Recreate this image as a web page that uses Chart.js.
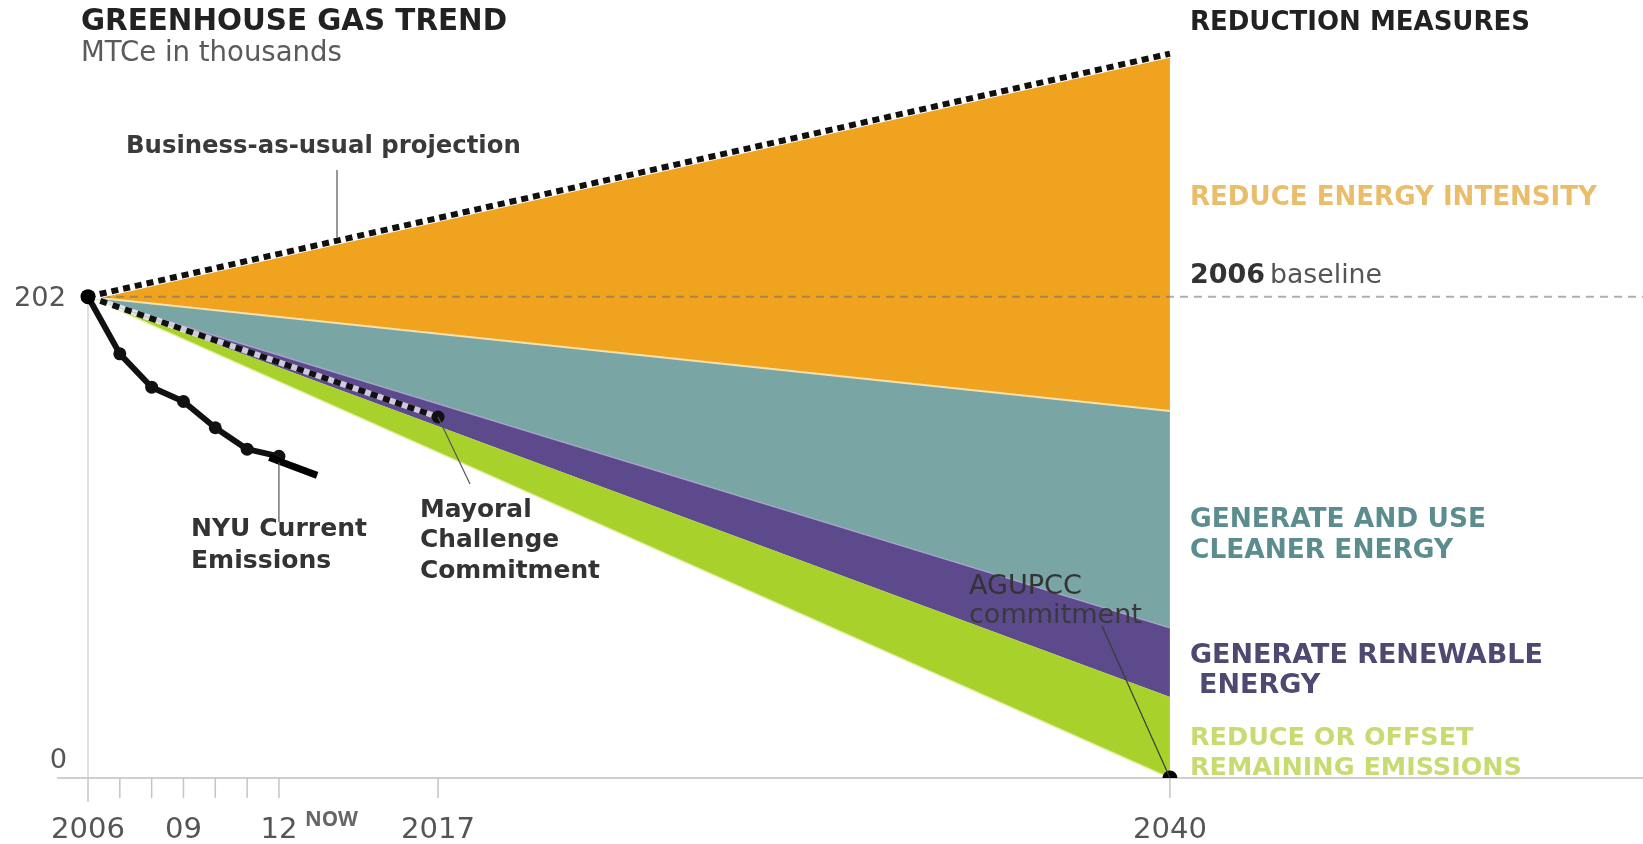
<!DOCTYPE html>
<html><head><meta charset="utf-8">
<script src="https://cdn.jsdelivr.net/npm/chart.js@4.4.1/dist/chart.umd.min.js"></script>
<style>html,body{margin:0;padding:0;background:#fff;overflow:hidden}canvas{display:block}</style>
</head><body>
<canvas id="c" width="1643" height="844"></canvas>
<script>
// ---- data ----
const years = [2006, 2040];
const businessAsUsual = [202, 304];
const afterEnergyIntensity = [202, 154];
const afterCleanerEnergy = [202, 63];
const afterRenewable = [202, 34];
const afterOffsets = [202, 0];
const baselineYears = [2006, 2060];
const baselineValues = [202, 202];
const mayoralYears = [2006, 2017];
const mayoralValues = [202, 151.5];
const nyuYears = [2006, 2007, 2008, 2009, 2010, 2011, 2012];
const nyuValues = [202, 178, 164, 158, 147, 138, 135];
const nyuTrendYears = [2011.7, 2013.2];
const nyuTrendValues = [134.5, 127];
const keyYears = [2006, 2040];
const keyValues = [202, 0];
const tickYears = [2006, 2007, 2008, 2009, 2010, 2011, 2012, 2017, 2040];
const tickLabels = ['2006', '', '', '09', '', '', '12', '2017', '2040'];
const yTickValues = [0, 202];
const yTickLabels = ['0', '202'];

const pts = (xs, ys) => xs.map((x, i) => ({x: x, y: ys[i]}));
const DV = "'DejaVu Sans'";

const COL = {orange: '#f0a31e', teal: '#79a5a5', purple: '#5c4a8c', green: '#a8d12c'};

function base(extra) {
  return Object.assign({pointRadius: 0, borderWidth: 0, fill: false, tension: 0, borderCapStyle: 'butt'}, extra);
}

const datasets = [
  base({data: pts(years, businessAsUsual), fill: 1, backgroundColor: COL.orange, order: 20}),
  base({data: pts(years, afterEnergyIntensity), fill: 2, backgroundColor: COL.teal, borderColor: 'rgba(252,228,175,0.95)', borderWidth: 2, order: 19}),
  base({data: pts(years, afterCleanerEnergy), fill: 3, backgroundColor: COL.purple, borderColor: 'rgba(175,170,210,0.8)', borderWidth: 1.5, order: 18}),
  base({data: pts(years, afterRenewable), fill: 4, backgroundColor: COL.green, order: 17}),
  base({data: pts(years, afterOffsets), borderColor: 'rgba(225,240,160,0.9)', borderWidth: 1.5, order: 16}),
  base({data: pts(baselineYears, baselineValues), borderColor: 'rgba(110,110,110,0.55)', borderWidth: 2, borderDash: [8, 6], clip: false, order: 15}),
  base({data: pts(years, businessAsUsual), borderColor: '#ffffff', borderWidth: 8, order: 14}),
  base({data: pts(years, businessAsUsual), borderColor: '#111111', borderWidth: 6, borderDash: [7, 5], order: 13}),
  base({data: pts(mayoralYears, mayoralValues), borderColor: 'rgba(255,255,255,0.7)', borderWidth: 6, order: 12}),
  base({data: pts(mayoralYears, mayoralValues), borderColor: '#111111', borderWidth: 6, borderDash: [7, 6], order: 11}),
  base({data: pts(mayoralYears, mayoralValues), showLine: false, pointRadius: [0, 6.5], pointBackgroundColor: '#111', pointBorderWidth: 0, order: 10}),
  base({data: pts(nyuYears, nyuValues), borderColor: '#111111', borderWidth: 6, borderCapStyle: 'round', borderJoinStyle: 'round', pointRadius: 6.5, pointBackgroundColor: '#111', pointBorderWidth: 0, order: 9}),
  base({data: pts(nyuTrendYears, nyuTrendValues), borderColor: '#000000', borderWidth: 7, order: 8}),
  base({data: pts(keyYears, keyValues), showLine: false, pointRadius: 7.5, pointBackgroundColor: '#000', pointBorderWidth: 0, order: 1})
];

const decor = {
  id: 'decor',
  beforeDraw(chart) {
    const ctx = chart.ctx, x = chart.scales.x, y = chart.scales.y, ca = chart.chartArea;
    const y0 = y.getPixelForValue(yTickValues[0]);
    const yTop = y.getPixelForValue(yTickValues[1]);
    const ln = (a, b, c, d) => { ctx.beginPath(); ctx.moveTo(a, b); ctx.lineTo(c, d); ctx.stroke(); };
    ctx.save();
    const x06 = x.getPixelForValue(tickYears[0]);
    ctx.strokeStyle = '#d6d6d6'; ctx.lineWidth = 1.5;
    ln(x06, yTop, x06, y0);
    ctx.strokeStyle = '#cfcfcf'; ctx.lineWidth = 2;
    ln(ca.left + 4, y0, chart.width, y0);
    ctx.strokeStyle = '#c4c4c4'; ctx.lineWidth = 1.5;
    tickYears.forEach((t, i) => {
      const px = x.getPixelForValue(t);
      ln(px, y0, px, y0 + (i === 0 ? 24 : 20));
    });
    ctx.restore();
  },
  afterDraw(chart) {
    const ctx = chart.ctx, x = chart.scales.x, y = chart.scales.y;
    const S = (t, w, wt, fam) => { ctx.font = wt + ' 100px ' + (fam || DV); return 100 * w / ctx.measureText(t).width; };
    const T = (t, px, py, size, wt, color, align, fam) => {
      ctx.font = wt + ' ' + size.toFixed(2) + 'px ' + (fam || DV);
      ctx.fillStyle = color; ctx.textAlign = align || 'left'; ctx.textBaseline = 'middle';
      ctx.fillText(t, px, py);
    };
    const ln = (a, b, c, d) => { ctx.beginPath(); ctx.moveTo(a, b); ctx.lineTo(c, d); ctx.stroke(); };
    ctx.save();

    // leader lines
    ctx.strokeStyle = '#555'; ctx.lineWidth = 1.2;
    const bx = 337;
    const bv = x.getValueForPixel(bx);
    const bauAt = businessAsUsual[0] + (businessAsUsual[1] - businessAsUsual[0]) * (bv - years[0]) / (years[1] - years[0]);
    ln(bx, 170, bx, y.getPixelForValue(bauAt) - 3);
    const x12 = x.getPixelForValue(nyuYears[6]);
    ln(x12, y.getPixelForValue(nyuValues[6]) + 6, x12, 522);
    ln(x.getPixelForValue(mayoralYears[1]), y.getPixelForValue(mayoralValues[1]), 470, 484);
    ctx.strokeStyle = '#3a3a3a'; ctx.lineWidth = 1.2;
    ln(1102, 626, x.getPixelForValue(keyYears[1]), y.getPixelForValue(keyValues[1]));

    // titles
    T('GREENHOUSE GAS TREND', 81, 22, S('GREENHOUSE GAS TREND', 426, 'bold'), 'bold', '#222');
    T('MTCe in thousands', 81, 54, S('MTCe in thousands', 261, 'normal'), 'normal', '#5a5a5a');
    T('REDUCTION MEASURES', 1190, 23, S('REDUCTION MEASURES', 340, 'bold'), 'bold', '#222');

    // annotations
    T('Business-as-usual projection', 126, 147, S('Business-as-usual projection', 395, 'bold'), 'bold', '#3a3a3a');
    let s = S('NYU Current', 176, 'bold');
    T('NYU Current', 191, 529, s, 'bold', '#333');
    T('Emissions', 191, 561, s, 'bold', '#333');
    s = S('Commitment', 180, 'bold');
    T('Mayoral', 420, 511, s, 'bold', '#333');
    T('Challenge', 420, 541, s, 'bold', '#333');
    T('Commitment', 420, 572, s, 'bold', '#333');
    s = S('commitment', 173, 'normal');
    T('AGUPCC', 969, 587, s, 'normal', '#333');
    T('commitment', 969, 616, s, 'normal', '#3a3a3a');

    // reduction measure labels
    T('REDUCE ENERGY INTENSITY', 1190, 198, S('REDUCE ENERGY INTENSITY', 407, 'bold'), 'bold', '#eabd6a');
    T('2006', 1190, 276, S('2006', 75, 'bold'), 'bold', '#333');
    T('baseline', 1270, 276, S('baseline', 112, 'normal'), 'normal', '#555');
    s = S('GENERATE AND USE', 296, 'bold');
    T('GENERATE AND USE', 1190, 520, s, 'bold', '#5b8d8e');
    T('CLEANER ENERGY', 1190, 551, s, 'bold', '#5b8d8e');
    s = S('GENERATE RENEWABLE', 353, 'bold');
    T('GENERATE RENEWABLE', 1190, 656, s, 'bold', '#4e4971');
    T('ENERGY', 1199, 686, s, 'bold', '#4e4971');
    s = S('REMAINING EMISSIONS', 332, 'bold');
    T('REDUCE OR OFFSET', 1190, 738, s, 'bold', '#c6db70');
    T('REMAINING EMISSIONS', 1190, 768, s, 'bold', '#c6db70');

    // y labels
    s = S('202', 52, 'normal');
    T(yTickLabels[1], 66, y.getPixelForValue(yTickValues[1]) + 2, s, 'normal', '#555', 'right');
    T(yTickLabels[0], 67, y.getPixelForValue(yTickValues[0]) - 17, s, 'normal', '#555', 'right');

    // x tick labels
    s = S('2006', 74, 'normal');
    tickYears.forEach((t, i) => {
      if (tickLabels[i]) T(tickLabels[i], x.getPixelForValue(t), 830, s, 'normal', '#555', 'center');
    });
    T('NOW', x.getPixelForValue(2013.65), 820, S('NOW', 53, 'bold', "'Open Sans'"), 'bold', '#666', 'center', "'Open Sans'");
    ctx.restore();
  }
};

new Chart(document.getElementById('c'), {
  type: 'line',
  data: {datasets: datasets},
  options: {
    responsive: false,
    devicePixelRatio: 1,
    animation: false,
    events: [],
    layout: {padding: {left: 53, right: 0, top: 15.5, bottom: 66}},
    scales: {
      x: {type: 'linear', min: 2004.9, max: 2054.63, display: false},
      y: {type: 'linear', min: 0, max: 320, display: false}
    },
    plugins: {
      legend: {display: false},
      tooltip: {enabled: false},
      filler: {drawTime: 'beforeDatasetsDraw'}
    }
  },
  plugins: [decor]
});
</script></body></html>
